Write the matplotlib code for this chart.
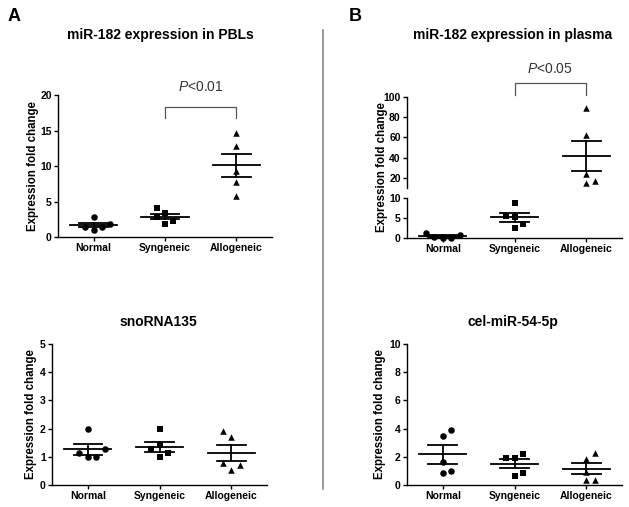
import numpy as np
import matplotlib.pyplot as plt

plt.rcParams['font.family'] = ['Liberation Sans', 'DejaVu Sans']
plt.rcParams['mathtext.fontset'] = 'custom'
plt.rcParams['mathtext.rm'] = 'Liberation Sans'
plt.rcParams['mathtext.it'] = 'Liberation Sans:italic'

groups = ["Normal", "Syngeneic", "Allogeneic"]
markers = ["o", "s", "^"]

# values (5 animals per group)
pbl = [
    [2.8, 1.4, 1.0, 1.4, 1.8],
    [4.1, 3.4, 2.8, 1.8, 2.3],
    [14.7, 12.8, 9.3, 7.8, 5.8],
]
plasma = [
    [1.3, 0.2, 0.1, 0.1, 0.8],
    [8.8, 5.6, 5.3, 3.5, 2.6],
    [89, 62, 24, 15, 17],
]
snorna = [
    [2.0, 1.12, 0.98, 0.98, 1.27],
    [2.0, 1.42, 1.27, 1.12, 0.98],
    [1.93, 1.71, 0.79, 0.71, 0.53],
]
celmir = [
    [3.9, 3.5, 1.6, 0.83, 1.0],
    [1.9, 1.95, 2.2, 0.83, 0.64],
    [1.82, 2.25, 0.95, 0.35, 0.35],
]

# horizontal scatter of the dots (in dot widths)
jit_pbl = [[0, -1, 0, 1, 2], [-1, 0, -1, 0, 1], [0, 0, 0, 0, 0]]
jit_plasma = [[-2, -1, 0, 1, 2], [0, -1, 0, 1, 0], [0, 0, 0, 0, 1]]
jit_sno = [[0, -1, 0, 1, 2], [0, 0, -1, 1, 0], [-1, 0, -1, 1, 0]]
jit_cel = [[1, 0, 0, 0, 1], [-1, 0, 1, 1, 0], [0, 1, 0, 0, 1]]
step = 0.117


def style(ax, xaxis=True):
    for s in ["top", "right"]:
        ax.spines[s].set_visible(False)
    for s in ["left", "bottom"]:
        ax.spines[s].set_linewidth(1.0)
    ax.tick_params(axis="both", length=3, width=1.0, labelsize=7.5, pad=1.5)
    ax.set_xlim(-0.5, 2.5)
    if xaxis:
        ax.set_xticks(range(3))
        ax.set_xticklabels(groups, fontsize=7.5, fontweight="bold")
    for lab in ax.get_yticklabels():
        lab.set_fontweight("bold")


def dots(ax, data, jit, lo=None, hi=None):
    # lo/hi: only draw what falls in this value range (broken axis)
    for i, vals in enumerate(data):
        vals = np.array(vals, dtype=float)
        x = i + np.array(jit[i]) * step
        keep = np.ones(len(vals), dtype=bool)
        if lo is not None:
            keep &= vals >= lo
        if hi is not None:
            keep &= vals <= hi
        ax.scatter(x[keep], vals[keep], marker=markers[i], s=22, color="black",
                   zorder=3, linewidths=0, clip_on=False)
        m = vals.mean()
        se = vals.std(ddof=1) / np.sqrt(len(vals))
        for y, w in [(m, 0.33), (m + se, 0.2), (m - se, 0.2)]:
            if (lo is None or y >= lo) and (hi is None or y <= hi):
                ax.plot([i - w, i + w], [y, y], color="black", lw=1.3, zorder=4)
        y0, y1 = m - se, m + se
        if lo is not None:
            y0 = max(y0, lo)
        if hi is not None:
            y1 = min(y1, hi)
        if y1 > y0:
            ax.plot([i, i], [y0, y1], color="black", lw=1.3, zorder=4)


fig = plt.figure(figsize=(6.29, 5.07), dpi=100)

# A top: PBLs
ax1 = fig.add_axes([0.0922, 0.5325, 0.3402, 0.2801])
dots(ax1, pbl, jit_pbl)
ax1.set_ylim(0, 20)
ax1.set_yticks([0, 5, 10, 15, 20])
style(ax1)
ax1.set_ylabel("Expression fold change", fontsize=8.3, fontweight="bold", labelpad=1)
ax1.plot([1, 1, 2, 2], [16.8, 18.3, 18.3, 16.8], color="#555555", lw=0.9, clip_on=False)
ax1.text(1.5, 20.1, "$\\mathit{P}$<0.01", ha="center", va="bottom", fontsize=10,
         color="#333333")
fig.text(0.255, 0.931, "miR-182 expression in PBLs", ha="center", va="center",
         fontsize=10, fontweight="bold")

# B top: plasma, broken axis
ax2u = fig.add_axes([0.647, 0.6292, 0.342, 0.1795])
ax2l = fig.add_axes([0.647, 0.5306, 0.342, 0.0789])
dots(ax2u, plasma, jit_plasma, lo=10)
dots(ax2l, plasma, jit_plasma, hi=10)
ax2u.set_ylim(10, 100)
ax2u.set_yticks([20, 40, 60, 80, 100])
ax2l.set_ylim(0, 10)
ax2l.set_yticks([0, 5, 10])
style(ax2u, xaxis=False)
style(ax2l)
ax2u.spines["bottom"].set_visible(False)
ax2u.set_xticks([])
ax2u.plot([1, 1, 2, 2], [102, 114, 114, 102], color="#555555", lw=0.9, clip_on=False)
ax2u.text(1.5, 121, "$\\mathit{P}$<0.05", ha="center", va="bottom", fontsize=10,
          color="#333333")
fig.text(0.607, 0.671, "Expression fold change", rotation=90, ha="center",
         va="center", fontsize=8.3, fontweight="bold")
fig.text(0.815, 0.931, "miR-182 expression in plasma", ha="center", va="center",
         fontsize=10, fontweight="bold")

# A bottom: snoRNA135
ax3 = fig.add_axes([0.0827, 0.0434, 0.3418, 0.2781])
dots(ax3, snorna, jit_sno)
ax3.set_ylim(0, 5)
ax3.set_yticks([0, 1, 2, 3, 4, 5])
style(ax3)
ax3.set_ylabel("Expression fold change", fontsize=8.3, fontweight="bold", labelpad=2)
fig.text(0.252, 0.365, "snoRNA135", ha="center", va="center", fontsize=10,
         fontweight="bold")

# B bottom: cel-miR-54-5p
ax4 = fig.add_axes([0.647, 0.0434, 0.342, 0.2781])
dots(ax4, celmir, jit_cel)
ax4.set_ylim(0, 10)
ax4.set_yticks([0, 2, 4, 6, 8, 10])
style(ax4)
ax4.set_ylabel("Expression fold change", fontsize=8.3, fontweight="bold", labelpad=2)
fig.text(0.816, 0.365, "cel-miR-54-5p", ha="center", va="center", fontsize=10,
         fontweight="bold")

# panel letters and divider
fig.text(0.012, 0.968, "A", fontsize=13, fontweight="bold", va="center")
fig.text(0.555, 0.968, "B", fontsize=13, fontweight="bold", va="center")
fig.add_artist(plt.Line2D([0.5135, 0.5135], [0.035, 0.94], color="#888888", lw=1.2))

plt.savefig("out.png", dpi=100)
